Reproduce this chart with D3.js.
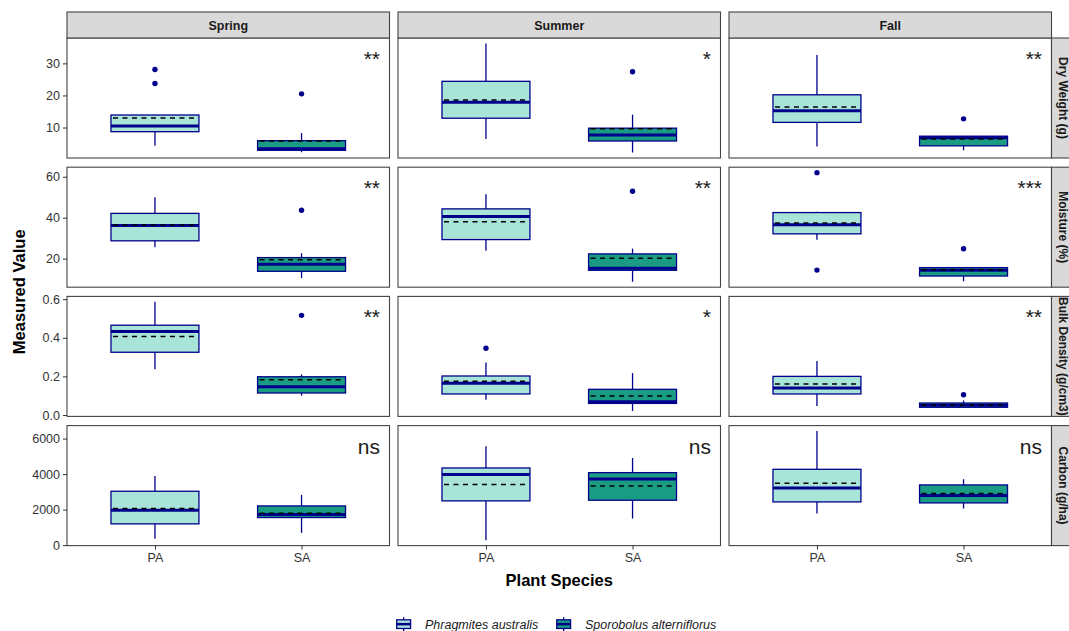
<!DOCTYPE html>
<html>
<head>
<meta charset="utf-8">
<script src="https://cdn.jsdelivr.net/npm/d3@7"></script>
<style>
  body { margin: 0; background: #fff; }
  text { font-family: "Liberation Sans", Arial, sans-serif; }
</style>
</head>
<body>
<svg width="1069" height="631"></svg>
<script>
const seasons = ['Spring', 'Summer', 'Fall'];
const species = ['PA', 'SA'];
const speciesNames = ['Phragmites australis', 'Sporobolus alterniflorus'];
const variables = ['Dry Weight (g)', 'Moisture (%)', 'Bulk Density (g/cm3)', 'Carbon (g/ha)'];

// season, species, lower whisker, q1, median, q3, upper whisker, mean, outliers
const dryWeight = [
  ['Spring', 'PA', 4.3, 8.7, 10.5, 13.9, 13.9, 13.0, [28.1, 23.7]],
  ['Spring', 'SA', 2.3, 2.9, 3.4, 5.9, 8.3, 5.8, [20.5]],
  ['Summer', 'PA', 6.4, 12.9, 17.9, 24.4, 36.2, 18.6, []],
  ['Summer', 'SA', 2.2, 5.8, 7.7, 9.8, 14.0, 9.6, [27.4]],
  ['Fall', 'PA', 4.1, 11.6, 15.2, 20.2, 32.6, 16.4, []],
  ['Fall', 'SA', 2.9, 4.3, 6.8, 7.3, 7.3, 6.4, [12.7]]
];
const moisture = [
  ['Spring', 'PA', 25.6, 28.7, 36.2, 42.1, 50.0, 36.4, []],
  ['Spring', 'SA', 10.5, 13.8, 17.2, 20.5, 22.6, 19.5, [43.6]],
  ['Summer', 'PA', 23.9, 29.3, 40.6, 44.3, 51.5, 38.0, []],
  ['Summer', 'SA', 8.7, 14.3, 15.3, 22.3, 24.9, 20.2, [52.9]],
  ['Fall', 'PA', 29.2, 32.1, 36.6, 42.5, 42.9, 37.4, [62.0, 14.4]],
  ['Fall', 'SA', 8.9, 11.5, 14.3, 15.6, 15.6, 14.6, [24.8]]
];
const bulkDensity = [
  ['Spring', 'PA', 0.237, 0.325, 0.433, 0.465, 0.586, 0.407, []],
  ['Spring', 'SA', 0.100, 0.114, 0.146, 0.198, 0.210, 0.183, [0.516]],
  ['Summer', 'PA', 0.079, 0.109, 0.165, 0.202, 0.272, 0.175, [0.346]],
  ['Summer', 'SA', 0.021, 0.060, 0.068, 0.133, 0.217, 0.098, []],
  ['Fall', 'PA', 0.046, 0.109, 0.140, 0.200, 0.280, 0.160, []],
  ['Fall', 'SA', 0.038, 0.040, 0.050, 0.062, 0.075, 0.051, [0.105]]
];
const carbon = [
  ['Spring', 'PA', 354, 1197, 1966, 3034, 3893, 2060, []],
  ['Spring', 'SA', 693, 1554, 1723, 2208, 2828, 1797, []],
  ['Summer', 'PA', 281, 2491, 3970, 4345, 5562, 3408, []],
  ['Summer', 'SA', 1498, 2528, 3727, 4082, 4906, 3333, []],
  ['Fall', 'PA', 1783, 2434, 3221, 4270, 6423, 3483, []],
  ['Fall', 'SA', 2060, 2378, 2790, 3390, 3708, 2903, []]
];

const tickValues = [[10, 20, 30], [20, 40, 60], [0, 0.2, 0.4, 0.6], [0, 2000, 4000, 6000]];
const tickFormats = [d3.format('d'), d3.format('d'), d3.format('.1f'), d3.format('d')];
const sigLabels = [['**', '*', '**'], ['**', '**', '***'], ['**', '*', '**'], ['ns', 'ns', 'ns']];

const tables = [dryWeight, moisture, bulkDensity, carbon];
const fills = { PA: '#a8e5d8', SA: '#1a9c84' };
const line = '#00008b';

const svg = d3.select('svg');
const margin = { left: 67, top: 38 };
const panelW = 322.5, panelH = 120, gapX = 8.5, gapY = 9.2, stripH = 26;
const colX = i => margin.left + i * (panelW + gapX);
const rowY = j => margin.top + j * (panelH + gapY);

const x = d3.scaleLinear().domain([0.4, 2.6]).range([0, panelW]);
const boxW = x(0.6) - x(0);

const defs = svg.append('defs');

tables.forEach((rows, j) => {
  const all = rows.flatMap(r => [r[2], r[6], ...r[8]]);
  const [lo, hi] = d3.extent(all);
  const pad = (hi - lo) * 0.05;
  const y = d3.scaleLinear().domain([lo - pad, hi + pad]).range([panelH, 0]);

  seasons.forEach((season, i) => {
    const g = svg.append('g')
      .attr('transform', `translate(${colX(i)},${rowY(j)})`);

    g.append('rect')
      .attr('width', panelW)
      .attr('height', panelH)
      .attr('fill', '#fff');

    const boxes = g.selectAll('.box')
      .data(rows.filter(r => r[0] === season))
      .enter().append('g')
        .attr('class', 'box')
        .attr('transform', r => `translate(${x(species.indexOf(r[1]) + 1)},0)`);

    boxes.append('line')
      .attr('y1', r => y(r[2])).attr('y2', r => y(r[6]))
      .attr('stroke', line).attr('stroke-width', 1.3);

    boxes.append('rect')
      .attr('x', -boxW / 2)
      .attr('width', boxW)
      .attr('y', r => y(r[5]))
      .attr('height', r => y(r[3]) - y(r[5]))
      .attr('fill', r => fills[r[1]])
      .attr('stroke', line)
      .attr('stroke-width', 1.3);

    boxes.append('line')
      .attr('x1', -boxW / 2).attr('x2', boxW / 2)
      .attr('y1', r => y(r[4])).attr('y2', r => y(r[4]))
      .attr('stroke', line).attr('stroke-width', 3);

    boxes.append('line')
      .attr('x1', -boxW / 2 + 2).attr('x2', boxW / 2 - 2)
      .attr('y1', r => y(r[7])).attr('y2', r => y(r[7]))
      .attr('stroke', '#000').attr('stroke-width', 1.5)
      .attr('stroke-dasharray', '5,4.5');

    boxes.selectAll('circle')
      .data(r => r[8])
      .enter().append('circle')
        .attr('cy', d => y(d))
        .attr('r', 2.7)
        .attr('fill', line);

    g.append('text')
      .attr('x', 313)
      .attr('y', 28)
      .attr('text-anchor', 'end')
      .attr('font-size', 21)
      .attr('fill', '#1a1a1a')
      .text(sigLabels[j][i]);

    g.append('rect')
      .attr('width', panelW)
      .attr('height', panelH)
      .attr('fill', 'none')
      .attr('stroke', '#444')
      .attr('stroke-width', 1.1);

    if (i === 0) {
      const yAxis = d3.axisLeft(y)
        .tickValues(tickValues[j])
        .tickFormat(tickFormats[j])
        .tickSize(4)
        .tickPadding(3);
      const yAxisG = g.append('g').call(yAxis);
      yAxisG.select('.domain').remove();
      yAxisG.selectAll('line').attr('stroke', '#333');
      yAxisG.selectAll('text').attr('font-size', 12.5).attr('fill', '#333')
        .style('font-family', '"Liberation Sans", Arial, sans-serif');
    }

    if (j === tables.length - 1) {
      const xAxis = d3.axisBottom(x)
        .tickValues([1, 2])
        .tickFormat(v => species[v - 1])
        .tickSize(4)
        .tickPadding(4);
      const xAxisG = g.append('g')
        .attr('transform', `translate(0,${panelH})`)
        .call(xAxis);
      xAxisG.select('.domain').remove();
      xAxisG.selectAll('line').attr('stroke', '#333');
      xAxisG.selectAll('text').attr('font-size', 12.5).attr('fill', '#333')
        .style('font-family', '"Liberation Sans", Arial, sans-serif');
    }

    if (j === 0) {
      const s = svg.append('g')
        .attr('transform', `translate(${colX(i)},${margin.top - stripH})`);
      s.append('rect')
        .attr('width', panelW).attr('height', stripH)
        .attr('fill', '#d9d9d9').attr('stroke', '#444').attr('stroke-width', 1.1);
      s.append('text')
        .attr('x', panelW / 2).attr('y', stripH / 2 + 4.5)
        .attr('text-anchor', 'middle')
        .attr('font-size', 12.5).attr('font-weight', 'bold').attr('fill', '#1a1a1a')
        .text(season);
    }
  });

  // right-hand strip (runs past the picture's right edge, as in the source)
  const sx = colX(2) + panelW;
  defs.append('clipPath').attr('id', 'strip-clip-' + j)
    .append('rect').attr('width', stripH).attr('height', panelH);
  const rs = svg.append('g')
    .attr('transform', `translate(${sx},${rowY(j)})`);
  rs.append('rect')
    .attr('width', stripH).attr('height', panelH)
    .attr('fill', '#d9d9d9').attr('stroke', '#444').attr('stroke-width', 1.1);
  rs.append('g').attr('clip-path', `url(#strip-clip-${j})`)
    .append('text')
      .attr('transform', `translate(${stripH / 2 - 6},${panelH / 2}) rotate(90)`)
      .attr('text-anchor', 'middle')
      .attr('font-size', 12).attr('font-weight', 'bold').attr('fill', '#1a1a1a')
      .text(variables[j]);
});

// axis titles
const plotBottom = rowY(tables.length - 1) + panelH;
svg.append('text')
  .attr('x', colX(0) + (colX(2) + panelW - colX(0)) / 2)
  .attr('y', plotBottom + 40)
  .attr('text-anchor', 'middle')
  .attr('font-size', 16.5).attr('font-weight', 'bold').attr('fill', '#000')
  .text('Plant Species');

svg.append('text')
  .attr('transform', `translate(25,${(margin.top + plotBottom) / 2}) rotate(-90)`)
  .attr('text-anchor', 'middle')
  .attr('font-size', 16.5).attr('font-weight', 'bold').attr('fill', '#000')
  .text('Measured Value');

// legend
const keySize = 17.3;
const legendY = 615.5;
const legendX = [395, 555];
species.forEach((sp, k) => {
  const lg = svg.append('g').attr('transform', `translate(${legendX[k]},${legendY})`);
  lg.append('line')
    .attr('x1', keySize / 2).attr('x2', keySize / 2)
    .attr('y1', keySize * 0.1).attr('y2', keySize * 0.9)
    .attr('stroke', line).attr('stroke-width', 1.3);
  lg.append('rect')
    .attr('x', keySize * 0.1).attr('width', keySize * 0.8)
    .attr('y', keySize * 0.25).attr('height', keySize * 0.5)
    .attr('fill', fills[sp]).attr('stroke', line).attr('stroke-width', 1.3);
  lg.append('line')
    .attr('x1', keySize * 0.1).attr('x2', keySize * 0.9)
    .attr('y1', keySize / 2).attr('y2', keySize / 2)
    .attr('stroke', line).attr('stroke-width', 2.5);
  lg.append('text')
    .attr('x', 30).attr('y', keySize / 2 + 4.5)
    .attr('font-size', 12.5).attr('font-style', 'italic').attr('fill', '#1a1a1a')
    .text(speciesNames[k]);
});
</script>
</body>
</html>
